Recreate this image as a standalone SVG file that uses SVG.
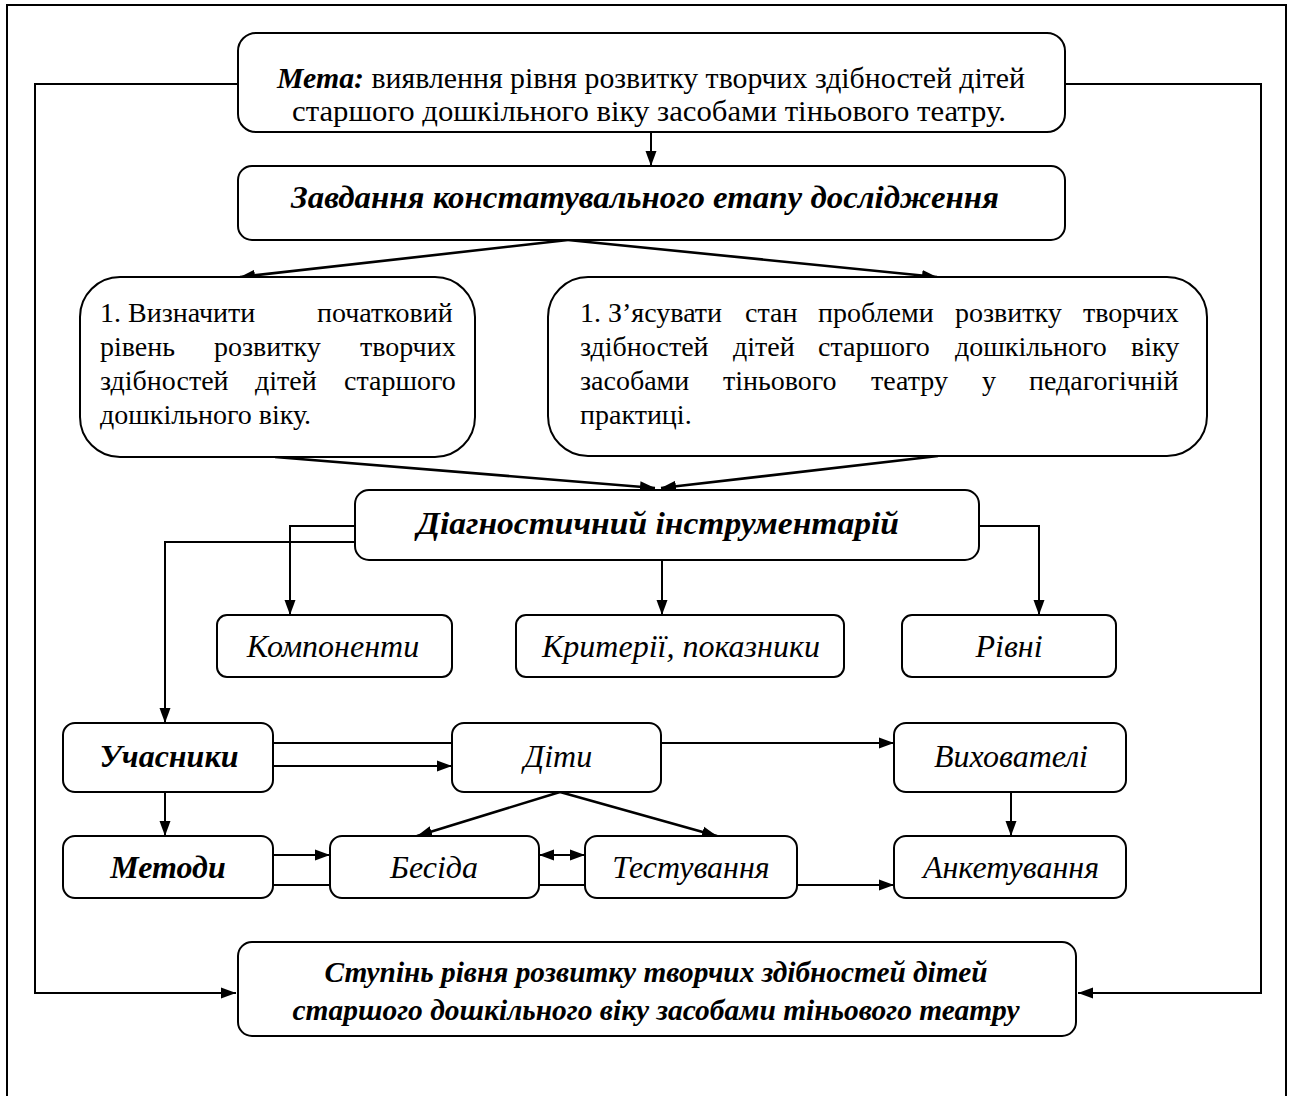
<svg xmlns="http://www.w3.org/2000/svg" width="1293" height="1096" viewBox="0 0 1293 1096">
<style>
.bg{fill:#fff}
.frame{fill:none;stroke:#000;stroke-width:2}
.box{fill:#fff;stroke:#000;stroke-width:2}
.ln{fill:none;stroke:#000;stroke-width:2}
.lnt{fill:none;stroke:#000;stroke-width:2.6}
.t{font-family:"Liberation Serif","Times New Roman",serif;font-size:28px;fill:#000}
.i{font-style:italic;font-size:32px}
.bi{font-style:italic;font-weight:bold}
</style>
<defs>
<marker id="ah" markerUnits="userSpaceOnUse" markerWidth="16" markerHeight="12" refX="15" refY="6" orient="auto-start-reverse" viewBox="0 0 16 12">
<path d="M0,0.5 L15,6 L0,11.5 z" fill="#000"/>
</marker>
</defs>
<rect class="bg" x="0" y="0" width="1293" height="1096"/>
<rect class="frame" x="7" y="5" width="1279" height="1110"/>

<g id="connectors">
<polyline class="ln" points="238,84 35,84 35,993 236,993" marker-end="url(#ah)"/>
<polyline class="ln" points="1065,84 1261,84 1261,993 1078,993" marker-end="url(#ah)"/>
<line class="ln" x1="651" y1="132" x2="651" y2="166" marker-end="url(#ah)"/>
<line class="lnt" x1="568" y1="240" x2="240" y2="277" marker-end="url(#ah)"/>
<line class="lnt" x1="568" y1="240" x2="937" y2="277" marker-end="url(#ah)"/>
<line class="lnt" x1="275" y1="457" x2="655" y2="488" marker-end="url(#ah)"/>
<line class="lnt" x1="938" y1="456" x2="661" y2="488" marker-end="url(#ah)"/>
<polyline class="ln" points="355,526 290,526 290,615" marker-end="url(#ah)"/>
<polyline class="ln" points="355,542 165,542 165,723" marker-end="url(#ah)"/>
<line class="ln" x1="662" y1="560" x2="662" y2="615" marker-end="url(#ah)"/>
<polyline class="ln" points="979,526 1039,526 1039,615" marker-end="url(#ah)"/>
<line class="ln" x1="273" y1="743" x2="452" y2="743"/>
<line class="ln" x1="273" y1="766" x2="452" y2="766" marker-end="url(#ah)"/>
<line class="ln" x1="661" y1="743" x2="894" y2="743" marker-end="url(#ah)"/>
<line class="ln" x1="165" y1="792" x2="165" y2="836" marker-end="url(#ah)"/>
<line class="lnt" x1="560" y1="792" x2="417" y2="836" marker-end="url(#ah)"/>
<line class="lnt" x1="560" y1="792" x2="717" y2="836" marker-end="url(#ah)"/>
<line class="ln" x1="1011" y1="792" x2="1011" y2="836" marker-end="url(#ah)"/>
<line class="ln" x1="273" y1="855" x2="330" y2="855" marker-end="url(#ah)"/>
<line class="ln" x1="273" y1="885" x2="330" y2="885"/>
<line class="ln" x1="539" y1="855" x2="585" y2="855" marker-start="url(#ah)" marker-end="url(#ah)"/>
<line class="ln" x1="539" y1="885" x2="585" y2="885"/>
<line class="ln" x1="797" y1="885" x2="894" y2="885" marker-end="url(#ah)"/>
</g>

<g id="meta">
<rect class="box" x="238" y="33" width="827" height="99" rx="18"/>
<text class="t" x="651" y="88" text-anchor="middle" textLength="748" lengthAdjust="spacingAndGlyphs" style="font-size:29px"><tspan class="bi">Мета:</tspan> виявлення рівня розвитку творчих здібностей дітей</text>
<text class="t" x="649" y="121" text-anchor="middle" textLength="714" lengthAdjust="spacingAndGlyphs" style="font-size:29px">старшого дошкільного віку засобами тіньового театру.</text>
</g>

<g id="zavdannya">
<rect class="box" x="238" y="166" width="827" height="74" rx="14"/>
<text class="t bi" x="645" y="208" text-anchor="middle" textLength="708" lengthAdjust="spacingAndGlyphs" style="font-size:31px">Завдання констатувального етапу дослідження</text>
</g>

<g id="task1">
<rect class="box" x="80" y="277" width="395" height="180" rx="40"/>
<text class="t" y="322"><tspan x="100">1. Визначити</tspan><tspan x="317">початковий</tspan></text>
<text class="t" y="356"><tspan x="100">рівень</tspan><tspan x="214">розвитку</tspan><tspan x="360">творчих</tspan></text>
<text class="t" y="390"><tspan x="100">здібностей</tspan><tspan x="255">дітей</tspan><tspan x="344">старшого</tspan></text>
<text class="t" x="100" y="424">дошкільного віку.</text>
</g>

<g id="task2">
<rect class="box" x="548" y="277" width="659" height="179" rx="40"/>
<text class="t" y="322"><tspan x="580">1. З’ясувати</tspan><tspan x="745">стан</tspan><tspan x="818">проблеми</tspan><tspan x="955">розвитку</tspan><tspan x="1083">творчих</tspan></text>
<text class="t" y="356"><tspan x="580">здібностей</tspan><tspan x="733">дітей</tspan><tspan x="818">старшого</tspan><tspan x="955">дошкільного</tspan><tspan x="1131">віку</tspan></text>
<text class="t" y="390"><tspan x="580">засобами</tspan><tspan x="723">тіньового</tspan><tspan x="871">театру</tspan><tspan x="982">у</tspan><tspan x="1029">педагогічній</tspan></text>
<text class="t" x="580" y="424">практиці.</text>
</g>

<g id="diag">
<rect class="box" x="355" y="490" width="624" height="70" rx="14"/>
<text class="t bi" x="658" y="534" text-anchor="middle" textLength="482" lengthAdjust="spacingAndGlyphs" style="font-size:32px">Діагностичний інструментарій</text>
</g>

<g id="komponenty">
<rect class="box" x="217" y="615" width="235" height="62" rx="10"/>
<text class="t i" x="333" y="657" text-anchor="middle">Компоненти</text>
</g>
<g id="kryterii">
<rect class="box" x="516" y="615" width="328" height="62" rx="10"/>
<text class="t i" x="681" y="657" text-anchor="middle">Критерії, показники</text>
</g>
<g id="rivni">
<rect class="box" x="902" y="615" width="214" height="62" rx="10"/>
<text class="t i" x="1009" y="657" text-anchor="middle">Рівні</text>
</g>

<g id="uchasnyky">
<rect class="box" x="63" y="723" width="210" height="69" rx="12"/>
<text class="t bi" x="169" y="767" text-anchor="middle" style="font-size:32px">Учасники</text>
</g>
<g id="dity">
<rect class="box" x="452" y="723" width="209" height="69" rx="12"/>
<text class="t i" x="558" y="767" text-anchor="middle">Діти</text>
</g>
<g id="vykhovateli">
<rect class="box" x="894" y="723" width="232" height="69" rx="12"/>
<text class="t i" x="1011" y="767" text-anchor="middle">Вихователі</text>
</g>

<g id="metody">
<rect class="box" x="63" y="836" width="210" height="62" rx="12"/>
<text class="t bi" x="168" y="878" text-anchor="middle" style="font-size:32px">Методи</text>
</g>
<g id="besida">
<rect class="box" x="330" y="836" width="209" height="62" rx="12"/>
<text class="t i" x="434" y="878" text-anchor="middle">Бесіда</text>
</g>
<g id="testuvannya">
<rect class="box" x="585" y="836" width="212" height="62" rx="12"/>
<text class="t i" x="691" y="878" text-anchor="middle">Тестування</text>
</g>
<g id="anketuvannya">
<rect class="box" x="894" y="836" width="232" height="62" rx="12"/>
<text class="t i" x="1011" y="878" text-anchor="middle">Анкетування</text>
</g>

<g id="stupin">
<rect class="box" x="238" y="942" width="838" height="94" rx="14"/>
<text class="t bi" x="656" y="982" text-anchor="middle" textLength="663" lengthAdjust="spacingAndGlyphs" style="font-size:30px">Ступінь рівня розвитку творчих здібностей дітей</text>
<text class="t bi" x="656" y="1020" text-anchor="middle" textLength="727" lengthAdjust="spacingAndGlyphs" style="font-size:30px">старшого дошкільного віку засобами тіньового театру</text>
</g>
</svg>
